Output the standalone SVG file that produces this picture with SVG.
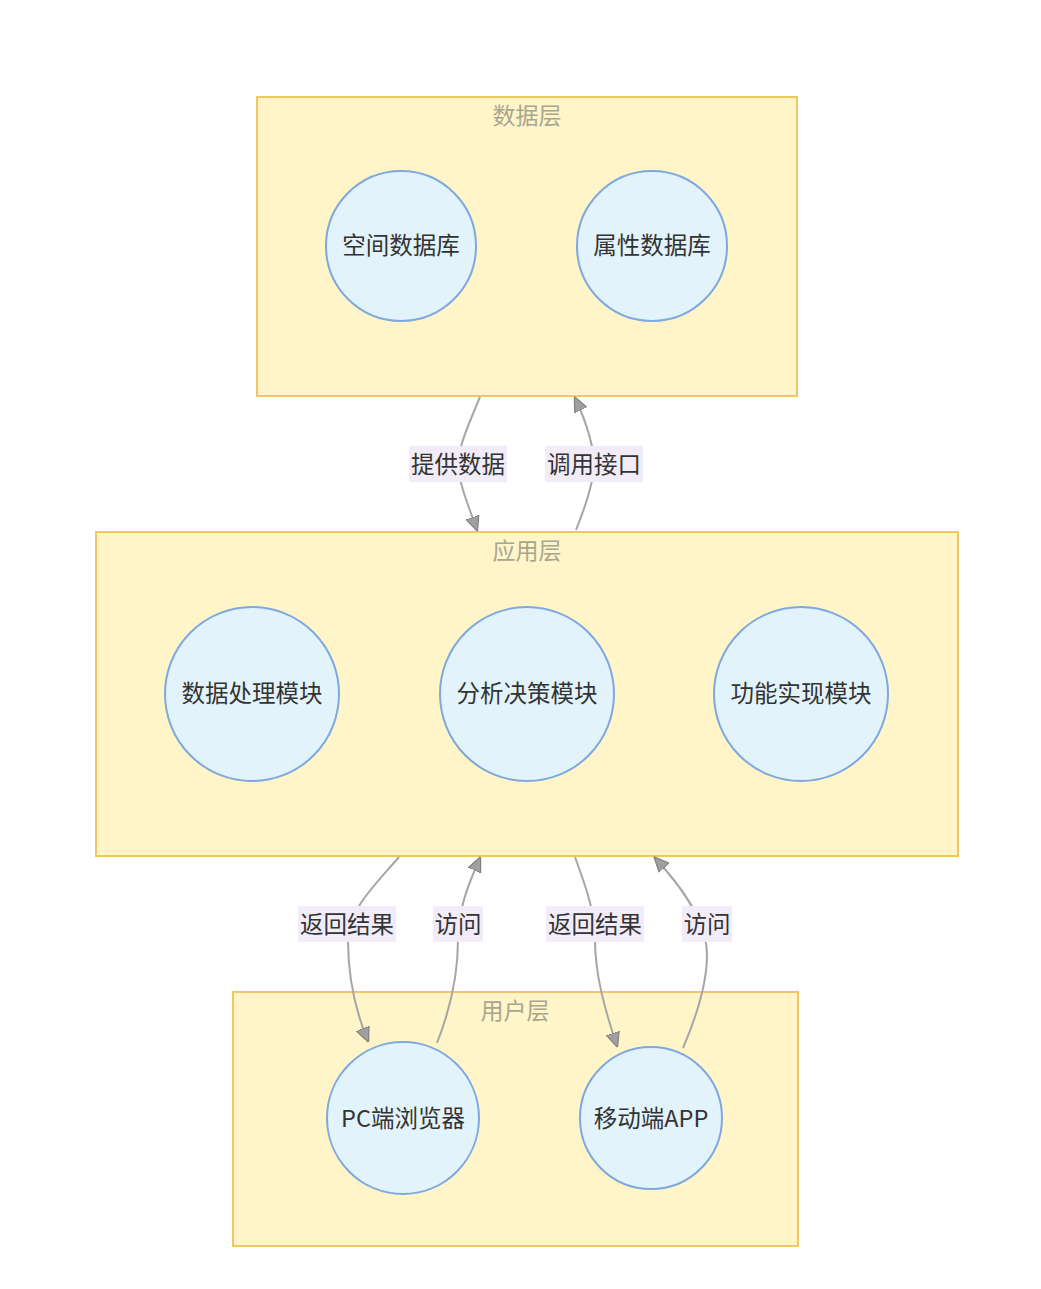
<svg xmlns="http://www.w3.org/2000/svg" width="1041" height="1289" viewBox="0 0 1041 1289">
<defs>
<style>
.cluster{fill:#fff5c9;stroke:#f0c862;stroke-width:2}
.ctitle{font-family:"Noto Sans CJK SC","Noto Sans",sans-serif;font-size:23px;fill:#a8a690;text-anchor:middle;dominant-baseline:central}
.node circle{fill:#e3f3fc;stroke:#7ea8e0;stroke-width:2}
.node text{font-family:"Noto Sans CJK SC","Noto Sans",sans-serif;font-size:23.5px;fill:#333;text-anchor:middle;dominant-baseline:central}
.edge{fill:none;stroke:#a6a6a6;stroke-width:2;marker-end:url(#arr)}
.lbl rect{fill:#f1ecf8}
.lbl text{font-family:"Noto Sans CJK SC","Noto Sans",sans-serif;font-size:23.5px;fill:#333;text-anchor:middle;dominant-baseline:central}
</style>
<marker id="arr" viewBox="0 0 10 10" refX="9" refY="5" markerWidth="15" markerHeight="15" markerUnits="userSpaceOnUse" orient="auto">
<path d="M0,0.5 L10,5 L0,9.5 z" fill="#a0a0a0" stroke="#808080" stroke-width="0.8"/>
</marker>
</defs>
<rect width="1041" height="1289" fill="#ffffff"/>

<g id="cluster-data">
<rect class="cluster" x="257" y="97" width="540" height="299"/>
<text class="ctitle" x="527" y="114">数据层</text>
</g>
<g id="cluster-app">
<rect class="cluster" x="96" y="532" width="862" height="324"/>
<text class="ctitle" x="527" y="549">应用层</text>
</g>
<g id="cluster-user">
<rect class="cluster" x="233" y="992" width="565" height="254"/>
<text class="ctitle" x="515" y="1009">用户层</text>
</g>

<g id="connectors">
<path class="edge" d="M480,397 C466,430 458,450 458,464 C458,480 468,505 477,530"/>
<path class="edge" d="M576,530 C586,505 594,480 594,464 C594,450 588,425 575,398"/>
<path class="edge" d="M399,857 C375,885 348,910 348,940 C348,975 355,1010 368,1041"/>
<path class="edge" d="M437,1043 C450,1010 458,975 458,940 C458,910 468,885 480,858"/>
<path class="edge" d="M575,857 C585,885 595,910 595,940 C595,975 605,1010 617,1046"/>
<path class="edge" d="M683,1048 C695,1020 707,985 707,955 C707,920 680,885 655,858"/>
<g class="lbl"><rect x="409" y="446" width="98" height="36"/><text x="458" y="463">提供数据</text></g>
<g class="lbl"><rect x="545" y="446" width="98" height="36"/><text x="594" y="463">调用接口</text></g>
<g class="lbl"><rect x="298" y="906" width="98" height="36"/><text x="347" y="923">返回结果</text></g>
<g class="lbl"><rect x="433" y="906" width="50" height="36"/><text x="458" y="923">访问</text></g>
<g class="lbl"><rect x="546" y="906" width="98" height="36"/><text x="595" y="923">返回结果</text></g>
<g class="lbl"><rect x="682" y="906" width="50" height="36"/><text x="707" y="923">访问</text></g>
</g>

<g id="node-spatial" class="node"><circle cx="401" cy="246" r="75"/><text x="401" y="244">空间数据库</text></g>
<g id="node-attr" class="node"><circle cx="652" cy="246" r="75"/><text x="652" y="244">属性数据库</text></g>
<g id="node-proc" class="node"><circle cx="252" cy="694" r="87"/><text x="252" y="692">数据处理模块</text></g>
<g id="node-analysis" class="node"><circle cx="527" cy="694" r="87"/><text x="527" y="692">分析决策模块</text></g>
<g id="node-func" class="node"><circle cx="801" cy="694" r="87"/><text x="801" y="692">功能实现模块</text></g>
<g id="node-pc" class="node"><circle cx="403" cy="1118" r="76"/><text x="403" y="1117">PC端浏览器</text></g>
<g id="node-mobile" class="node"><circle cx="651" cy="1118" r="71"/><text x="651" y="1117">移动端APP</text></g>
</svg>
